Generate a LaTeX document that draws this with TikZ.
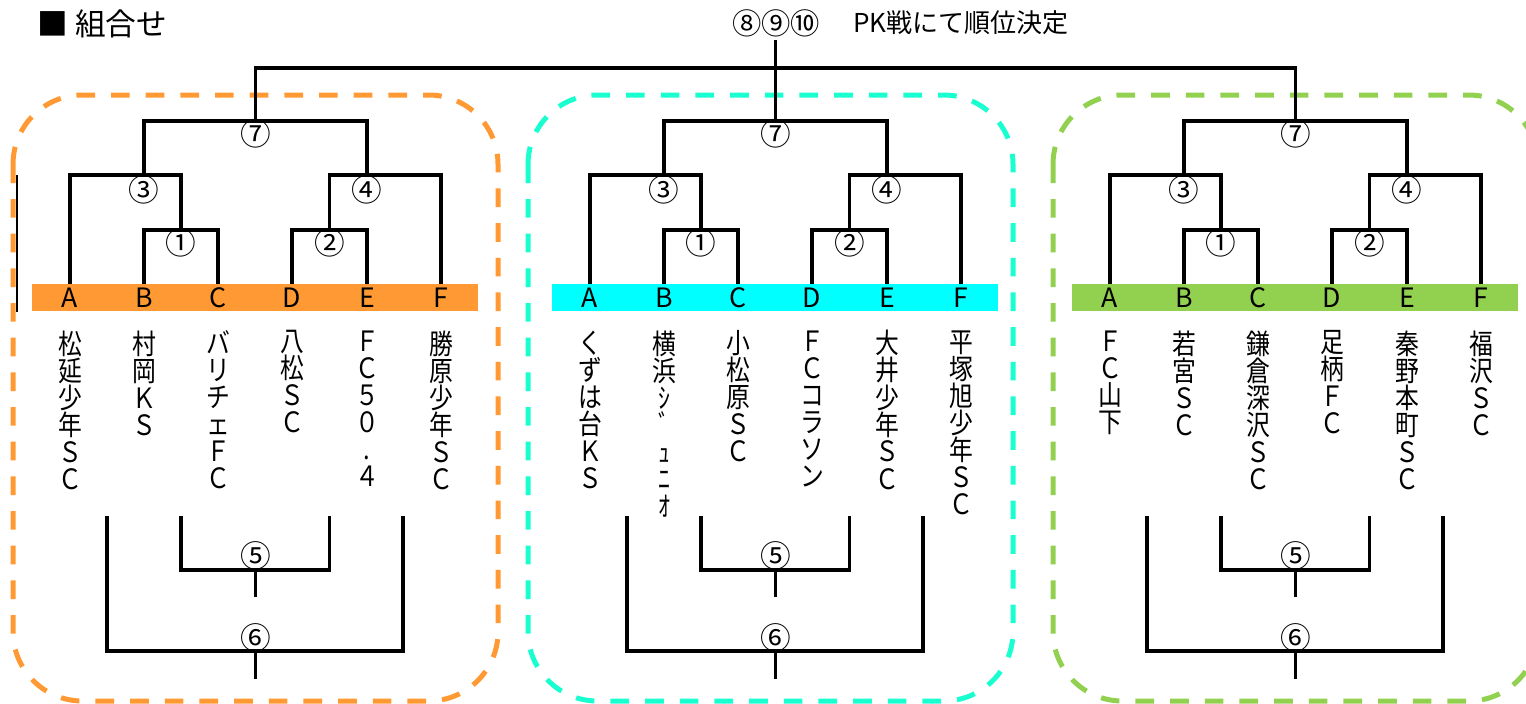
\documentclass[tikz,border=0pt]{standalone}
\usepackage{fontspec}
\setmainfont{Noto Sans CJK JP}
\newfontfamily\teamfont{Noto Sans CJK JP}[FakeStretch=0.85]
\definecolor{bandorange}{RGB}{255,153,51}
\definecolor{bandcyan}{RGB}{0,255,255}
\definecolor{boxcyan}{RGB}{26,255,208}
\definecolor{bandgreen}{RGB}{146,208,80}
\newcommand{\tightlines}{\setlength{\lineskiplimit}{-20pt}}

\tikzset{every picture/.style={line width=0.75pt}}
\tikzset{
  bracket/.style={line width=2.5pt},
  groupbox/.style={line width=3.75pt, dash pattern=on 14pt off 12pt, rounded corners=52pt},
  letter/.style={inner sep=0pt, minimum height=20.25pt, font=\fontsize{20}{20}\selectfont},
  team/.style={anchor=north, inner sep=0pt, align=center, font={\teamfont\fontsize{21}{20.25}\selectfont\tightlines}},
  circnum/.style={inner sep=0pt, font=\fontsize{23}{23}\selectfont},
}

\begin{document}
\begin{tikzpicture}[x=0.75pt,y=0.75pt,yscale=-1,xscale=1]
\useasboundingbox (0,0) rectangle (1526,703);

%Title
\node[anchor=west, inner sep=0pt, font=\fontsize{23}{23}\selectfont] (title) at (37,24) {■ 組合せ};
\node[inner sep=0pt, font=\fontsize{22}{22}\selectfont] (ranks) at (776,23) {⑧⑨⑩};
\node[inner sep=0pt, font=\fontsize{19.5}{19.5}\selectfont] (pk) at (961,23) {PK戦にて順位決定};

%Shape: dashed boxes
\draw[groupbox, bandorange] (13,95) rectangle (498,701);
\draw[groupbox, boxcyan] (528,95) rectangle (1013,701);
\draw[groupbox, bandgreen] (1053,95) rectangle (1538,701);

%Shape: thin line at left
\draw[line width=1.5pt] (17,175) -- (17,312);

%Shape: bands
\fill[bandorange] (32,284) rectangle (478,311);
\fill[bandcyan] (552,284) rectangle (998,311);
\fill[bandgreen] (1072,284) rectangle (1518,311);

%Group 1 letters
\node[letter] (g1A) at (70,297.5) {A};
\node[letter] (g1B) at (144,297.5) {B};
\node[letter] (g1C) at (218,297.5) {C};
\node[letter] (g1D) at (292,297.5) {D};
\node[letter] (g1E) at (367,297.5) {E};
\node[letter] (g1F) at (441,297.5) {F};
%Group 2 letters
\node[letter] (g2A) at (590,297.5) {A};
\node[letter] (g2B) at (664,297.5) {B};
\node[letter] (g2C) at (738,297.5) {C};
\node[letter] (g2D) at (812,297.5) {D};
\node[letter] (g2E) at (887,297.5) {E};
\node[letter] (g2F) at (961,297.5) {F};
%Group 3 letters
\node[letter] (g3A) at (1110,297.5) {A};
\node[letter] (g3B) at (1184,297.5) {B};
\node[letter] (g3C) at (1258,297.5) {C};
\node[letter] (g3D) at (1332,297.5) {D};
\node[letter] (g3E) at (1407,297.5) {E};
\node[letter] (g3F) at (1481,297.5) {F};

%Group 1 teams
\node[team] (g1tA) at (70,330) {松\\延\\少\\年\\Ｓ\\Ｃ};
\node[team] (g1tB) at (144,330) {村\\岡\\Ｋ\\Ｓ};
\node[team] (g1tC) at (218,330) {バ\\リ\\チ\\ェ\\Ｆ\\Ｃ};
\node[team] (g1tD) at (292,330) {八\\松\\Ｓ\\Ｃ};
\node[team] (g1tE) at (367,330) {Ｆ\\Ｃ\\５\\０\\.\\４};
\node[team] (g1tF) at (441,330) {勝\\原\\少\\年\\Ｓ\\Ｃ};
%Group 2 teams
\node[team] (g2tA) at (590,330) {く\\ず\\は\\台\\Ｋ\\Ｓ};
\node[team] (g2tB) at (664,330) {横\\浜\\ｼ\\ﾞ\\ｭ\\ﾆ\\ｵ};
\node[team] (g2tC) at (738,330) {小\\松\\原\\Ｓ\\Ｃ};
\node[team] (g2tD) at (812,330) {Ｆ\\Ｃ\\コ\\ラ\\ソ\\ン};
\node[team] (g2tE) at (887,330) {大\\井\\少\\年\\Ｓ\\Ｃ};
\node[team] (g2tF) at (961,330) {平\\塚\\旭\\少\\年\\Ｓ\\Ｃ};
%Group 3 teams
\node[team] (g3tA) at (1110,330) {Ｆ\\Ｃ\\山\\下};
\node[team] (g3tB) at (1184,330) {若\\宮\\Ｓ\\Ｃ};
\node[team] (g3tC) at (1258,330) {鎌\\倉\\深\\沢\\Ｓ\\Ｃ};
\node[team] (g3tD) at (1332,330) {足\\柄\\Ｆ\\Ｃ};
\node[team] (g3tE) at (1407,330) {秦\\野\\本\\町\\Ｓ\\Ｃ};
\node[team] (g3tF) at (1481,330) {福\\沢\\Ｓ\\Ｃ};

%Group 1 upper bracket
\coordinate (g1j1) at (181,230);
\coordinate (g1j2) at (329.5,230);
\coordinate (g1j3) at (144,175);
\coordinate (g1j4) at (367,175);
\coordinate (g1j7) at (255.5,121);
\draw[bracket] (g1B.north) |- (g1j1) -| (g1C.north);
\draw[bracket] (g1D.north) |- (g1j2) -| (g1E.north);
\draw[bracket] (g1A.north) |- (g1j3) -| (g1j1);
\draw[bracket] (g1F.north) |- (g1j4) -| (g1j2);
\draw[bracket] (g1j3) |- (g1j7) -| (g1j4);
\node[circnum] (g1m1) at (181,243) {①};
\node[circnum] (g1m2) at (329.5,243) {②};
\node[circnum] (g1m3) at (144,190) {③};
\node[circnum] (g1m4) at (367,190) {④};
\node[circnum] (g1m7) at (255.5,134) {⑦};
%Group 2 upper bracket
\coordinate (g2j1) at (701,230);
\coordinate (g2j2) at (849.5,230);
\coordinate (g2j3) at (664,175);
\coordinate (g2j4) at (887,175);
\coordinate (g2j7) at (775.5,121);
\draw[bracket] (g2B.north) |- (g2j1) -| (g2C.north);
\draw[bracket] (g2D.north) |- (g2j2) -| (g2E.north);
\draw[bracket] (g2A.north) |- (g2j3) -| (g2j1);
\draw[bracket] (g2F.north) |- (g2j4) -| (g2j2);
\draw[bracket] (g2j3) |- (g2j7) -| (g2j4);
\node[circnum] (g2m1) at (701,243) {①};
\node[circnum] (g2m2) at (849.5,243) {②};
\node[circnum] (g2m3) at (664,190) {③};
\node[circnum] (g2m4) at (887,190) {④};
\node[circnum] (g2m7) at (775.5,134) {⑦};
%Group 3 upper bracket
\coordinate (g3j1) at (1221,230);
\coordinate (g3j2) at (1369.5,230);
\coordinate (g3j3) at (1184,175);
\coordinate (g3j4) at (1407,175);
\coordinate (g3j7) at (1295.5,121);
\draw[bracket] (g3B.north) |- (g3j1) -| (g3C.north);
\draw[bracket] (g3D.north) |- (g3j2) -| (g3E.north);
\draw[bracket] (g3A.north) |- (g3j3) -| (g3j1);
\draw[bracket] (g3F.north) |- (g3j4) -| (g3j2);
\draw[bracket] (g3j3) |- (g3j7) -| (g3j4);
\node[circnum] (g3m1) at (1221,243) {①};
\node[circnum] (g3m2) at (1369.5,243) {②};
\node[circnum] (g3m3) at (1184,190) {③};
\node[circnum] (g3m4) at (1407,190) {④};
\node[circnum] (g3m7) at (1295.5,134) {⑦};

%Final across groups
\coordinate (final) at (775.5,40);
\coordinate (finaljoin) at (775.5,68);
\draw[bracket] (g1j7) |- (finaljoin) -| (g3j7);
\draw[bracket] (g2j7) -- (final);

%Group 1 lower bracket
\coordinate (g1k5l) at (181,516);
\coordinate (g1k5r) at (329.5,516);
\coordinate (g1k6l) at (107,516);
\coordinate (g1k6r) at (403,516);
\coordinate (g1j5) at (255.5,570);
\coordinate (g1j6) at (255.5,651);
\coordinate (g1s5) at (255.5,597);
\coordinate (g1s6) at (255.5,679);
\draw[bracket] (g1k5l) |- (g1j5) -| (g1k5r);
\draw[bracket] (g1j5) -- (g1s5);
\draw[bracket] (g1k6l) |- (g1j6) -| (g1k6r);
\draw[bracket] (g1j6) -- (g1s6);
\node[circnum] (g1m5) at (255.5,556) {⑤};
\node[circnum] (g1m6) at (255.5,638) {⑥};
%Group 2 lower bracket
\coordinate (g2k5l) at (701,516);
\coordinate (g2k5r) at (849.5,516);
\coordinate (g2k6l) at (627,516);
\coordinate (g2k6r) at (923,516);
\coordinate (g2j5) at (775.5,570);
\coordinate (g2j6) at (775.5,651);
\coordinate (g2s5) at (775.5,597);
\coordinate (g2s6) at (775.5,679);
\draw[bracket] (g2k5l) |- (g2j5) -| (g2k5r);
\draw[bracket] (g2j5) -- (g2s5);
\draw[bracket] (g2k6l) |- (g2j6) -| (g2k6r);
\draw[bracket] (g2j6) -- (g2s6);
\node[circnum] (g2m5) at (775.5,556) {⑤};
\node[circnum] (g2m6) at (775.5,638) {⑥};
%Group 3 lower bracket
\coordinate (g3k5l) at (1221,516);
\coordinate (g3k5r) at (1369.5,516);
\coordinate (g3k6l) at (1147,516);
\coordinate (g3k6r) at (1443,516);
\coordinate (g3j5) at (1295.5,570);
\coordinate (g3j6) at (1295.5,651);
\coordinate (g3s5) at (1295.5,597);
\coordinate (g3s6) at (1295.5,679);
\draw[bracket] (g3k5l) |- (g3j5) -| (g3k5r);
\draw[bracket] (g3j5) -- (g3s5);
\draw[bracket] (g3k6l) |- (g3j6) -| (g3k6r);
\draw[bracket] (g3j6) -- (g3s6);
\node[circnum] (g3m5) at (1295.5,556) {⑤};
\node[circnum] (g3m6) at (1295.5,638) {⑥};
\end{tikzpicture}
\end{document}
